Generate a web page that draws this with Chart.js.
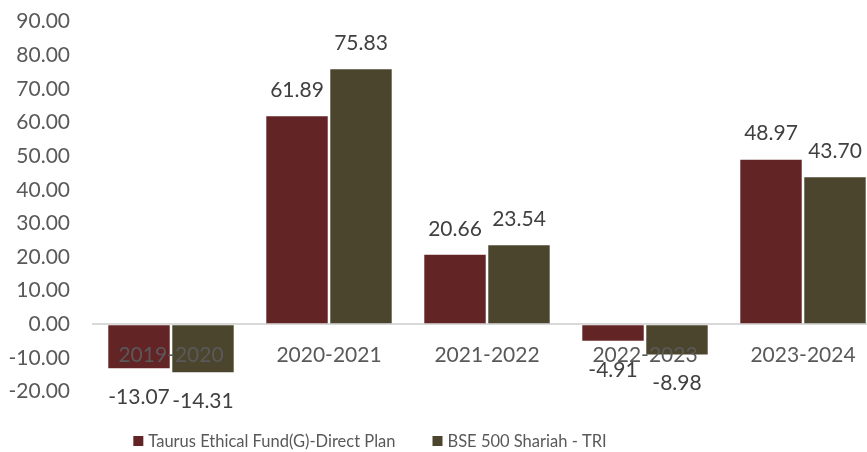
<!DOCTYPE html>
<html><head><meta charset="utf-8">
<script src="https://cdn.jsdelivr.net/npm/chart.js@4.4.1/dist/chart.umd.min.js"></script>
<style>html,body{margin:0;padding:0;overflow:hidden;background:#fff;width:867px;height:452px}canvas{display:block}</style>
</head><body>
<canvas id="c" width="882" height="452"></canvas>
<script>
const categories = ['2019-2020', '2020-2021', '2021-2022', '2022-2023', '2023-2024'];
const fundValues = [-13.07, 61.89, 20.66, -4.91, 48.97];
const benchmarkValues = [-14.31, 75.83, 23.54, -8.98, 43.70];
const seriesNames = ['Taurus Ethical Fund(G)-Direct Plan', 'BSE 500 Shariah - TRI'];
const yMin = -20, yMax = 90, yStep = 10;

const FONT = 'Lato';
const fundColor = '#632426';
const benchColor = '#4b452e';

const dataLabelPlugin = {
  id: 'dataLabels',
  afterDatasetsDraw(chart) {
    const ctx = chart.ctx;
    ctx.save();
    ctx.font = '21px ' + FONT;
    ctx.fillStyle = '#404040';
    ctx.textAlign = 'center';
    ctx.textBaseline = 'middle';
    chart.data.datasets.forEach((ds, i) => {
      const meta = chart.getDatasetMeta(i);
      meta.data.forEach((bar, j) => {
        const v = ds.data[j];
        const y = v >= 0 ? bar.y - 26 : bar.y + 29;
        ctx.fillText(v.toFixed(2), bar.x, y);
      });
    });
    ctx.restore();
  }
};

const legendPlugin = {
  id: 'customLegend',
  afterDraw(chart) {
    const ctx = chart.ctx;
    ctx.save();
    ctx.font = '16.5px ' + FONT;
    ctx.textBaseline = 'middle';
    ctx.textAlign = 'left';
    const box = 10, gapText = 5, gapItem = 37, centerX = 370, y = 441;
    const items = chart.data.datasets.map(d => ({ text: d.label, color: d.backgroundColor, w: ctx.measureText(d.label).width }));
    let total = 0;
    items.forEach((it, i) => { total += box + gapText + it.w + (i ? gapItem : 0); });
    let x = centerX - total / 2;
    items.forEach((it) => {
      ctx.fillStyle = it.color;
      ctx.fillRect(x, y - box / 2, box, box);
      ctx.fillStyle = '#595959';
      ctx.fillText(it.text, x + box + gapText, y + 1);
      x += box + gapText + it.w + gapItem;
    });
    ctx.restore();
  }
};

new Chart(document.getElementById('c'), {
  type: 'bar',
  data: {
    labels: categories,
    datasets: [
      { label: seriesNames[0], data: fundValues, backgroundColor: fundColor, categoryPercentage: 0.81, barPercentage: 0.96 },
      { label: seriesNames[1], data: benchmarkValues, backgroundColor: benchColor, categoryPercentage: 0.81, barPercentage: 0.96 }
    ]
  },
  options: {
    responsive: false,
    animation: false,
    devicePixelRatio: 1,
    layout: { padding: { top: 21.7, left: 0, right: 0, bottom: 0 } },
    plugins: { legend: { display: false }, tooltip: { enabled: false } },
    scales: {
      x: {
        grid: { display: false, drawTicks: false },
        border: { display: false },
        ticks: { z: 1, color: '#595959', font: { family: FONT, size: 21 }, mirror: true, padding: 24, maxRotation: 0, autoSkip: false },
        afterFit(s) { s.height = 60.5; }
      },
      y: {
        min: yMin, max: yMax,
        grid: {
          drawTicks: false,
          lineWidth: 2,
          color: (c) => (c.tick && c.tick.value === 0) ? '#d9d9d9' : 'rgba(0,0,0,0)'
        },
        border: { display: false },
        ticks: { stepSize: yStep, color: '#595959', font: { family: FONT, size: 21 }, padding: 22, callback: (v) => Number(v).toFixed(2) },
        afterFit(s) { s.width = 92; s.paddingTop = 0; s.paddingBottom = 0; }
      }
    }
  },
  plugins: [dataLabelPlugin, legendPlugin]
});
</script>
</body></html>
